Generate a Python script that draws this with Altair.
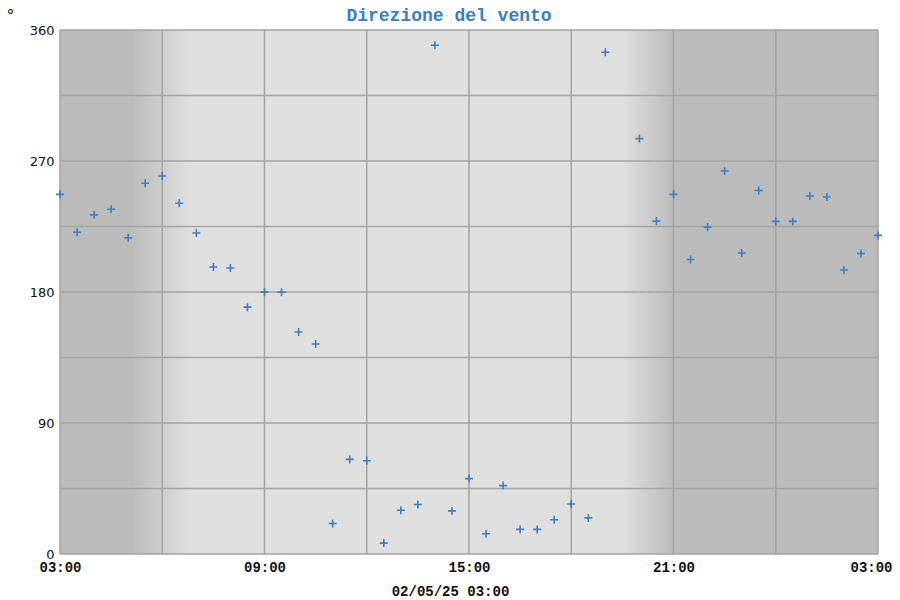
import altair as alt
import pandas as pd

# ---- data -------------------------------------------------------------------
chart_title = "Direzione del vento"
unit_label = "°"
x_title = "02/05/25 03:00"
start_time = "2025-05-02 03:00"
end_time = "2025-05-03 03:00"
times = [
    "2025-05-02 03:00", "2025-05-02 03:30", "2025-05-02 04:00", "2025-05-02 04:30",
    "2025-05-02 05:00", "2025-05-02 05:30", "2025-05-02 06:00", "2025-05-02 06:30",
    "2025-05-02 07:00", "2025-05-02 07:30", "2025-05-02 08:00", "2025-05-02 08:30",
    "2025-05-02 09:00", "2025-05-02 09:30", "2025-05-02 10:00", "2025-05-02 10:30",
    "2025-05-02 11:00", "2025-05-02 11:30", "2025-05-02 12:00", "2025-05-02 12:30",
    "2025-05-02 13:00", "2025-05-02 13:30", "2025-05-02 14:00", "2025-05-02 14:30",
    "2025-05-02 15:00", "2025-05-02 15:30", "2025-05-02 16:00", "2025-05-02 16:30",
    "2025-05-02 17:00", "2025-05-02 17:30", "2025-05-02 18:00", "2025-05-02 18:30",
    "2025-05-02 19:00", "2025-05-02 20:00", "2025-05-02 20:30",
    "2025-05-02 21:00", "2025-05-02 21:30", "2025-05-02 22:00", "2025-05-02 22:30",
    "2025-05-02 23:00", "2025-05-02 23:30", "2025-05-03 00:00", "2025-05-03 00:30",
    "2025-05-03 01:00", "2025-05-03 01:30", "2025-05-03 02:00", "2025-05-03 02:30",
    "2025-05-03 03:00",
]
direction = [
    247.1, 221.1, 233.0, 236.9, 217.3, 254.7, 259.7, 241.0,
    220.5, 197.2, 196.5, 169.6, 179.9, 179.9, 152.5, 144.3,
    21.0, 65.0, 64.1, 7.5, 30.1, 34.0, 349.5, 29.6,
    51.8, 13.9, 47.0, 16.9, 16.9, 23.5, 34.4, 24.8,
    344.7, 285.4, 228.7,
    247.1, 202.3, 224.6, 263.1, 206.8, 249.7, 228.5, 228.5,
    246.0, 245.3, 195.1, 206.4, 218.9,
]

# twilight transitions of the background shading
dawn_start = "2025-05-02 05:06"
dawn_end = "2025-05-02 06:48"
dusk_start = "2025-05-02 19:30"
dusk_end = "2025-05-02 21:00"

x_grid = [0, 3, 6, 9, 12, 15, 18, 21, 24]
y_grid = [0, 45, 90, 135, 180, 225, 270, 315, 360]

# ---- tables -----------------------------------------------------------------
t0 = pd.Timestamp(start_time)


def hours(s):
    return (pd.Timestamp(s) - t0).total_seconds() / 3600.0


pts = pd.DataFrame({"h": [hours(t) for t in times], "dir": direction})
gx = pd.DataFrame({"h": x_grid})
gy = pd.DataFrame({"v": y_grid})

DARK = "#bbbbbb"
LIGHT = "#dfdfdf"
GRID = "#a3a3a3"
BLUE = "#3b7fc1"
W, H = 818, 524

xs = alt.Scale(domain=[0, 24], nice=False, zero=False)
ys = alt.Scale(domain=[0, 360], nice=False, zero=True)

x_axis = alt.Axis(
    values=x_grid, grid=False, ticks=False, domain=False,
    labelExpr="datum.value % 6 == 0 ? (((datum.value + 3) % 24) < 10 ? '0' : '') + ((datum.value + 3) % 24) + ':00' : ''",
    labelFont="Liberation Mono", labelFontWeight="bold", labelFontSize=14,
    labelColor="#111111", labelPadding=6, labelFlush=False, labelOverlap=False,
    labelOffset=alt.ExprRef("datum.value == 24 ? -7 : 0"),
    title=x_title, titleFont="Liberation Mono", titleFontWeight="bold",
    titleFontSize=14, titleColor="#111111", titleX=390, titleY=41,
    titleBaseline="alphabetic", titleAnchor="middle", titleAlign="center",
)
y_axis = alt.Axis(
    values=y_grid, grid=False, ticks=False, domain=False, title=None,
    labelExpr="datum.value % 90 == 0 ? datum.label : ''",
    labelFont="DejaVu Sans", labelFontSize=13, labelColor="#111111",
    labelPadding=6, labelFlush=False, labelOverlap=False,
)

# night -> dawn (left) and dusk -> night (right) shaded rectangles
h_ds, h_de = hours(dawn_start), hours(dawn_end)
h_ks, h_ke = hours(dusk_start), hours(dusk_end)
h_end = hours(end_time)

left_band = pd.DataFrame({"h0": [0.0], "h1": [h_de]})
right_band = pd.DataFrame({"h0": [h_ks], "h1": [h_end]})

left = alt.Chart(left_band).mark_rect(
    color=alt.LinearGradient(
        gradient="linear", x1=0, x2=1, y1=0, y2=0,
        stops=[alt.GradientStop(color=DARK, offset=0),
               alt.GradientStop(color=DARK, offset=h_ds / h_de),
               alt.GradientStop(color=LIGHT, offset=1)])
).encode(
    x=alt.X("h0:Q", scale=xs, axis=x_axis), x2="h1:Q",
    y=alt.value(0), y2=alt.value(H),
)
right = alt.Chart(right_band).mark_rect(
    color=alt.LinearGradient(
        gradient="linear", x1=0, x2=1, y1=0, y2=0,
        stops=[alt.GradientStop(color=LIGHT, offset=0),
               alt.GradientStop(color=DARK, offset=(h_ke - h_ks) / (h_end - h_ks)),
               alt.GradientStop(color=DARK, offset=1)])
).encode(
    x=alt.X("h0:Q", scale=xs), x2="h1:Q", y=alt.value(0), y2=alt.value(H),
)

vgrid = alt.Chart(gx).mark_rule(color=GRID, strokeWidth=1.5).encode(
    x=alt.X("h:Q", scale=xs), y=alt.value(0), y2=alt.value(H))
hgrid = alt.Chart(gy).mark_rule(color=GRID, strokeWidth=1.5).encode(
    y=alt.Y("v:Q", scale=ys, axis=y_axis), x=alt.value(0), x2=alt.value(W))

points = alt.Chart(pts).mark_point(
    shape="M-1,0L1,0M0,-1L0,1", size=64, filled=False, stroke=BLUE,
    strokeWidth=1.6, opacity=1,
).encode(
    x=alt.X("h:Q", scale=xs),
    y=alt.Y("dir:Q", scale=ys),
)

labels = pd.DataFrame({"t": [chart_title]})
title_mark = alt.Chart(labels).mark_text(
    font="Liberation Mono", fontSize=18, fontWeight="bold", color="#3a7fbf",
    align="center", baseline="alphabetic",
).encode(text="t:N", x=alt.value(389), y=alt.value(-9))

units = pd.DataFrame({"u": [unit_label]})
unit_mark = alt.Chart(units).mark_text(
    font="DejaVu Sans", fontSize=16, color="#111111",
    align="center", baseline="alphabetic",
).encode(text="u:N", x=alt.value(-49.5), y=alt.value(-9))

chart = alt.layer(left, right, vgrid, hgrid, points, title_mark, unit_mark).properties(
    width=W, height=H,
    autosize=alt.AutoSizeParams(type="none"),
    padding={"left": 52, "top": 22, "right": 14, "bottom": 46},
).configure_view(stroke=None, fill=LIGHT)

chart.save("out.html", embed_options={"renderer": "svg", "actions": False})
